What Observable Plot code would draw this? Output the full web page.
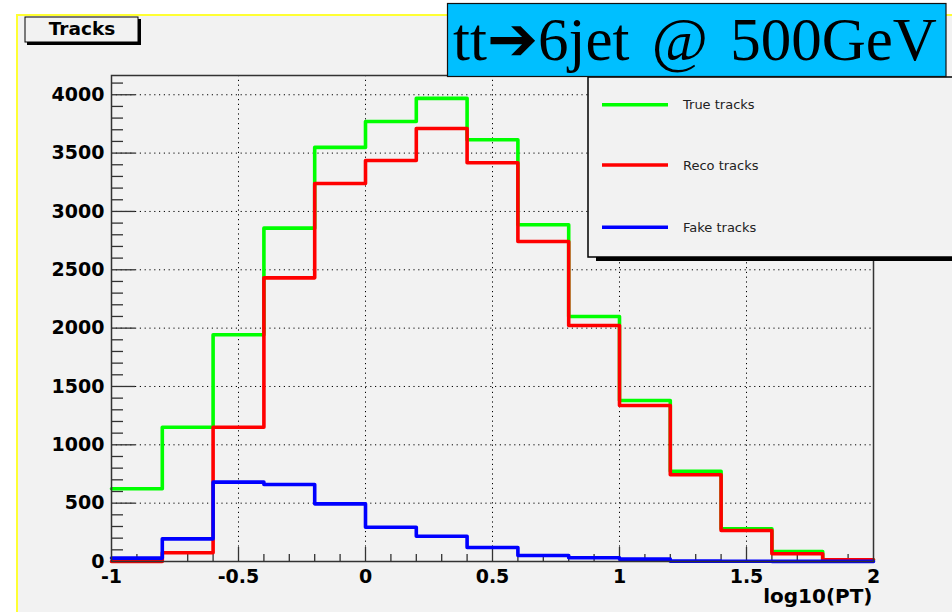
<!DOCTYPE html>
<html><head><meta charset="utf-8">
<script src="https://cdn.jsdelivr.net/npm/d3@7"></script>
<script src="https://cdn.jsdelivr.net/npm/@observablehq/plot@0.6"></script>
<style>body{margin:0;background:#fff;} svg{display:block;}</style>
</head><body><div id="chart"></div>
<script>
// ---- data ----
const binEdges   = [-1, -0.8, -0.6, -0.4, -0.2, 0, 0.2, 0.4, 0.6, 0.8, 1.0, 1.2, 1.4, 1.6, 1.8, 2.0];
const trueTracks = [623, 1150, 1943, 2857, 3549, 3771, 3969, 3614, 2886, 2100, 1380, 774, 280, 86, 12];
const recoTracks = [0, 75, 1151, 2431, 3240, 3437, 3711, 3417, 2743, 2023, 1337, 743, 266, 66, 15];
const fakeTracks = [29, 194, 680, 660, 494, 294, 217, 120, 51, 32, 20, 3, 2, 1, 1];
const seriesNames  = ["True tracks", "Reco tracks", "Fake tracks"];
const seriesColors = ["#00ff00", "#ff0000", "#0000ff"];
const xTicks = [-1, -0.5, 0, 0.5, 1, 1.5, 2];
const yTicks = [0, 500, 1000, 1500, 2000, 2500, 3000, 3500, 4000];
const titleText = "tt\u27946jet @ 500GeV";
const histTitle = "Tracks";
const xLabel = "log10(PT)";

// ---- layout ----
const W = 952, H = 612;
const mL = 111, mR = 79, mT = 75, mB = 51;
const plotW = W - mL - mR, plotH = H - mT - mB;

function steps(vals) {
  const pts = vals.map((v, i) => ({x: binEdges[i], y: v}));
  pts.push({x: binEdges[binEdges.length - 1], y: vals[vals.length - 1]});
  return pts;
}
const series = [trueTracks, recoTracks, fakeTracks];

const yMinor = d3.range(0, 4101, 100).filter(d => d % 500 !== 0);
const xMinor = d3.range(-10, 21, 1).map(d => d / 10).filter(d => Math.abs(d * 2 - Math.round(d * 2)) > 1e-9);
const xMajorInner = xTicks.slice(1, -1);

const dots = "1.2,3.6";
const svg = Plot.plot({
  width: W, height: H,
  marginLeft: mL, marginRight: mR, marginTop: mT, marginBottom: mB,
  style: {background: "transparent", fontFamily: "DejaVu Sans", overflow: "visible"},
  x: {domain: [-1, 2]},
  y: {domain: [0, 4165]},
  marks: [
    Plot.ruleX(xMajorInner, {x: d => d, stroke: "#000", strokeWidth: 1, strokeDasharray: dots}),
    Plot.ruleY(yTicks.slice(1), {y: d => d, stroke: "#000", strokeWidth: 1, strokeDasharray: dots}),
    Plot.tickY(yTicks, {y: d => d, insetRight: plotW - 24, stroke: "#333", strokeWidth: 1.3}),
    Plot.tickY(yMinor, {y: d => d, insetRight: plotW - 12, stroke: "#333", strokeWidth: 1.3}),
    Plot.tickX(xMajorInner, {x: d => d, insetTop: plotH - 14, stroke: "#333", strokeWidth: 1.3}),
    Plot.tickX(xMinor, {x: d => d, insetTop: plotH - 7, stroke: "#333", strokeWidth: 1.3}),
    ...series.map((vals, i) => Plot.line(steps(vals), {x: "x", y: "y", curve: "step-after", stroke: seriesColors[i], strokeWidth: 3.6})),
    Plot.frame({stroke: "#333", strokeWidth: 1.5}),
    Plot.axisY({ticks: yTicks, tickSize: 0, tickPadding: 7, fontSize: 19, fontWeight: "bold", fill: "#000", tickFormat: d => String(d), label: null}),
    Plot.axisX({ticks: xTicks, tickSize: 0, tickPadding: 8, fontSize: 19, fontWeight: "bold", fill: "#000", tickFormat: d => String(d), label: null}),
    Plot.text([xLabel], {frameAnchor: "bottom-right", text: d => d, dy: 41, dx: -1, fontSize: 20, fontWeight: "bold", fill: "#000", textAnchor: "end", lineAnchor: "bottom"})
  ]
});

const s = d3.select(svg);
// pad background with yellow border
s.insert("rect", ":first-child").attr("x", 17).attr("y", 15).attr("width", 960).attr("height", 620)
  .attr("fill", "#f2f2f2").attr("stroke", "#ffff33").attr("stroke-width", 2);
s.insert("rect", ":first-child").attr("x", 0).attr("y", 0).attr("width", W).attr("height", H).attr("fill", "#fff");

// histogram title box
s.append("rect").attr("x", 27).attr("y", 19).attr("width", 114).attr("height", 26).attr("fill", "#000");
s.append("rect").attr("x", 25).attr("y", 17).attr("width", 113).attr("height", 25).attr("fill", "#f2f2f2").attr("stroke", "#000").attr("stroke-width", 1);
s.append("text").attr("x", 82).attr("y", 35).attr("text-anchor", "middle").attr("font-family", "DejaVu Sans")
  .attr("font-weight", "bold").attr("font-size", 18.5).attr("fill", "#000").text(histTitle);

// legend
const lg = s.append("g");
lg.append("rect").attr("x", 596).attr("y", 82).attr("width", 400).attr("height", 179).attr("fill", "#000");
lg.append("rect").attr("x", 588).attr("y", 77).attr("width", 400).attr("height", 180).attr("fill", "#f2f2f2").attr("stroke", "#000").attr("stroke-width", 1.5);
const legY = [104.7, 165, 227.3];
seriesNames.forEach((name, i) => {
  lg.append("line").attr("x1", 602).attr("x2", 668).attr("y1", legY[i]).attr("y2", legY[i])
    .attr("stroke", seriesColors[i]).attr("stroke-width", 3.6);
  lg.append("text").attr("x", 683).attr("y", legY[i] + 4.5).attr("text-anchor", "start").attr("font-family", "DejaVu Sans")
    .attr("font-size", 13).attr("fill", "#222").text(name);
});

// big title box
s.append("rect").attr("x", 447.5).attr("y", 3.5).attr("width", 498.5).attr("height", 73).attr("fill", "#00bfff").attr("stroke", "#111").attr("stroke-width", 1.2);
s.append("text").attr("x", 453).attr("y", 60).attr("text-anchor", "start").attr("font-family", "Liberation Serif, DejaVu Sans")
  .attr("font-size", 61).attr("word-spacing", 7).attr("fill", "#000").text(titleText);

document.getElementById("chart").appendChild(svg);
</script>
</body></html>
